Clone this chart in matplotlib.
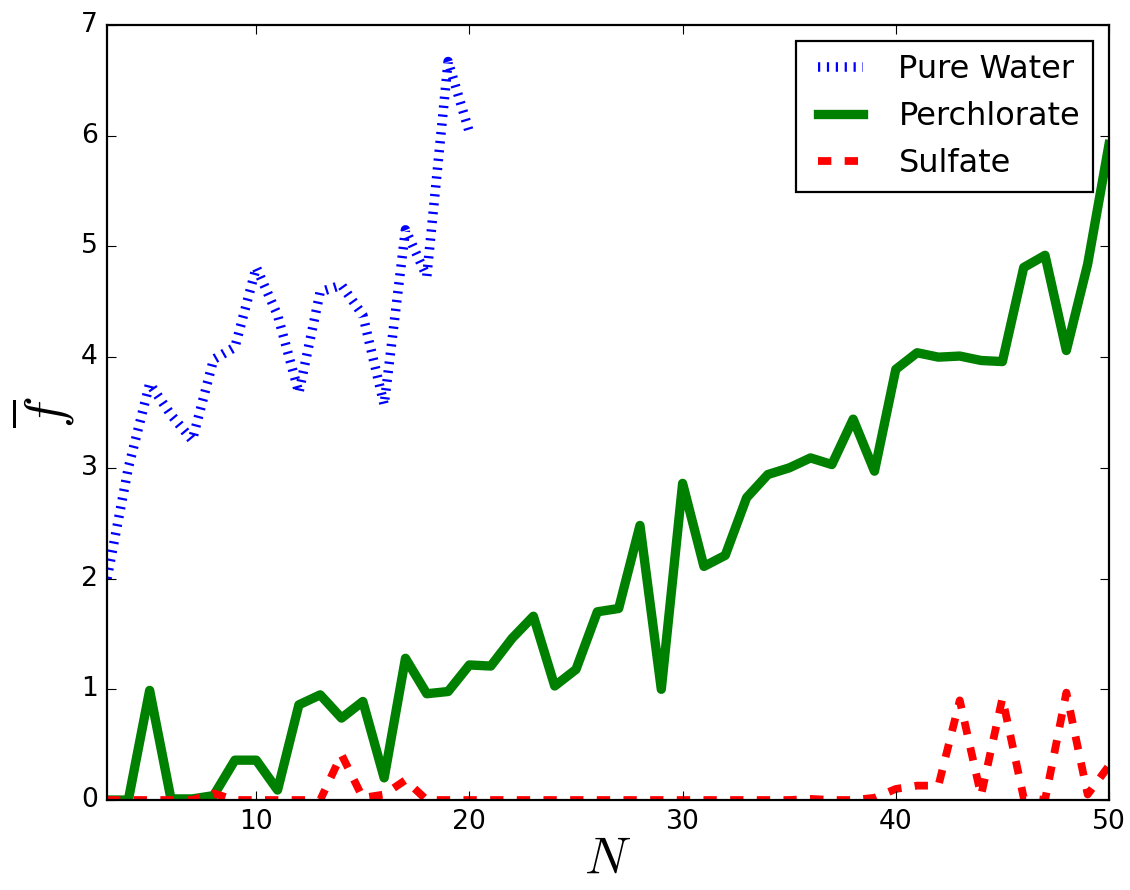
import matplotlib
matplotlib.use('Agg')
import matplotlib.pyplot as plt
import numpy as np

plt.style.use('classic')

# mean f versus cluster size N
N_water = list(range(3, 21))
f_water = [2.0, 3.0, 3.76, 3.48, 3.25, 3.98, 4.09, 4.81, 4.38, 3.68,
           4.59, 4.65, 4.38, 3.57, 5.15, 4.73, 6.67, 6.03]

N_ion = list(range(3, 51))
f_perchlorate = [0.0, 0.0, 0.99, 0.01, 0.01, 0.04, 0.36, 0.36, 0.09, 0.86,
                 0.95, 0.74, 0.89, 0.20, 1.28, 0.96, 0.98, 1.22, 1.21, 1.46,
                 1.66, 1.03, 1.18, 1.70, 1.73, 2.48, 1.00, 2.86, 2.11, 2.21,
                 2.73, 2.94, 3.00, 3.09, 3.03, 3.44, 2.97, 3.89, 4.04, 4.00,
                 4.01, 3.97, 3.96, 4.81, 4.92, 4.06, 4.84, 5.92]
f_sulfate = [0.0, 0.0, 0.0, 0.0, 0.0, 0.06, 0.0, 0.0, 0.0, 0.0,
             0.0, 0.41, 0.02, 0.05, 0.18, 0.0, 0.0, 0.0, 0.0, 0.0,
             0.0, 0.0, 0.0, 0.0, 0.0, 0.0, 0.0, 0.0, 0.0, 0.0,
             0.0, 0.0, 0.0, 0.01, 0.0, 0.0, 0.02, 0.10, 0.13, 0.13,
             0.90, 0.04, 0.92, 0.02, 0.0, 0.97, 0.05, 0.31]

dpi = 160
fig = plt.figure(figsize=(1130. / dpi, 890. / dpi), dpi=dpi, facecolor='white')
ax = fig.add_axes([0.0947, 0.1011, 0.8867, 0.8708])

ax.plot(N_water, f_water, 'b:', lw=4.3, label='Pure Water')
ax.plot(N_ion, f_perchlorate, 'g-', lw=4.2, label='Perchlorate')
ax.plot(N_ion, f_sulfate, 'r--', lw=3.5, label='Sulfate')

ax.set_xlim(3, 50)
ax.set_ylim(0, 7)
ax.set_xticks([10, 20, 30, 40, 50])
ax.set_yticks(np.arange(0, 8, 1))

ax.set_xlabel(r'$N$', fontsize=23, labelpad=0)
ax.set_ylabel(r'$\overline{f}$', fontsize=24, labelpad=2)

ax.legend(loc='upper right')

fig.savefig('out.png', dpi=dpi, facecolor='white')
